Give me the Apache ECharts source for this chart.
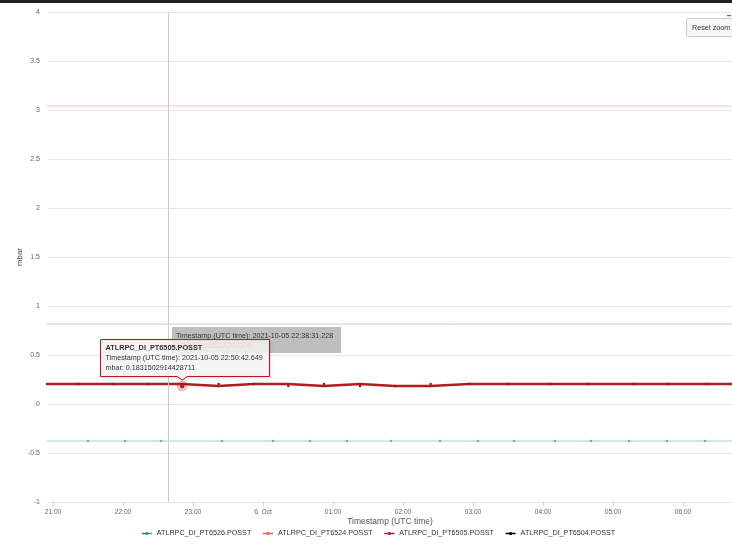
<!DOCTYPE html>
<html>
<head>
<meta charset="utf-8">
<script src="https://cdn.jsdelivr.net/npm/echarts@6/dist/echarts.min.js"></script>
<style>
  html, body { margin: 0; padding: 0; background: #fff; }
  #chart { width: 732px; height: 544px; }
</style>
</head>
<body>
<div id="chart"></div>
<script>
// Sensor names (legend order)
const seriesNames = [
  'ATLRPC_DI_PT6526.POSST',
  'ATLRPC_DI_PT6524.POSST',
  'ATLRPC_DI_PT6505.POSST',
  'ATLRPC_DI_PT6504.POSST'
];

// PT6526 readings (mbar)
const pt6526Times = [
  '2021-10-05T20:50:00Z', '2021-10-05T21:30:00Z', '2021-10-05T22:01:43Z', '2021-10-05T22:32:34Z',
  '2021-10-05T23:24:51Z', '2021-10-06T00:08:34Z', '2021-10-06T00:40:17Z', '2021-10-06T01:12:00Z',
  '2021-10-06T01:49:43Z', '2021-10-06T02:31:43Z', '2021-10-06T03:04:17Z', '2021-10-06T03:35:09Z',
  '2021-10-06T04:10:17Z', '2021-10-06T04:41:09Z', '2021-10-06T05:13:43Z', '2021-10-06T05:46:17Z',
  '2021-10-06T06:18:51Z', '2021-10-06T06:57:26Z'
];
const pt6526Values = [
  -0.378, -0.378, -0.378, -0.378, -0.378, -0.378, -0.378, -0.378, -0.378,
  -0.378, -0.378, -0.378, -0.378, -0.378, -0.378, -0.378, -0.378, -0.378
];

// PT6524 readings (mbar)
const pt6524Times = ['2021-10-05T20:50:00Z', '2021-10-06T01:50:00Z', '2021-10-06T06:57:00Z'];
const pt6524Values = [3.041, 3.041, 3.041];

// PT6505 readings (mbar)
const pt6505Times = [
  '2021-10-05T20:51:26Z', '2021-10-05T21:21:41Z', '2021-10-05T21:51:41Z', '2021-10-05T22:21:41Z',
  '2021-10-05T22:50:42.649Z', '2021-10-05T23:22:02Z', '2021-10-05T23:51:41Z', '2021-10-06T00:21:41Z',
  '2021-10-06T00:52:17Z', '2021-10-06T01:23:09Z', '2021-10-06T01:53:09Z', '2021-10-06T02:23:44Z',
  '2021-10-06T02:56:50Z', '2021-10-06T03:30:15Z', '2021-10-06T04:07:27Z', '2021-10-06T04:38:50Z',
  '2021-10-06T05:18:00Z', '2021-10-06T05:47:24Z', '2021-10-06T06:20:19Z', '2021-10-06T06:53:00Z'
];
const pt6505Values = [
  0.2035, 0.2035, 0.2035, 0.2035, 0.1831502914428711, 0.2035, 0.2035, 0.1832,
  0.2035, 0.1832, 0.1832, 0.2035, 0.2035, 0.2035, 0.2035, 0.2035,
  0.2035, 0.2035, 0.2035, 0.2035
];

// PT6504 readings (mbar)
const pt6504Times = ['2021-10-05T20:50:00Z', '2021-10-05T22:38:31.228Z', '2021-10-06T06:57:00Z'];
const pt6504Values = [0.8153655514250309, 0.8153655514250309, 0.8153655514250309];

// Axis settings
const xMin = '2021-10-05T20:55:43Z';
const xMax = '2021-10-06T06:42:00Z';
const yMin = -1, yMax = 4, yStep = 0.5;
const monthNames = ['Jan', 'Feb', 'Mar', 'Apr', 'May', 'Jun', 'Jul', 'Aug', 'Sep', 'Oct', 'Nov', 'Dec'];

// Hovered reading and crosshair reading
const hoverSeries = 2, hoverIndex = 4;
const crossSeries = 3, crossIndex = 1;

const seriesColors = ['#2a9a5a', '#f45b5b', '#b51a1e', '#000000'];
const seriesOpacity = [0.42, 0.35, 1, 0.2];

const allTimes = [pt6526Times, pt6524Times, pt6505Times, pt6504Times];
const allValues = [pt6526Values, pt6524Values, pt6505Values, pt6504Values];

const pairs = (ts, vs) => ts.map((t, i) => [Date.parse(t), vs[i]]);
const pad = n => (n < 10 ? '0' : '') + n;
const FONT = '"Liberation Sans", Arial, sans-serif';

const chart = echarts.init(document.getElementById('chart'), null, { renderer: 'canvas' });

const series = seriesNames.map((name, k) => {
  const s = {
    name: name,
    type: 'line',
    data: pairs(allTimes[k], allValues[k]),
    color: seriesColors[k],
    symbol: 'circle',
    showSymbol: k === 0 || k === 2,
    symbolSize: 2.5,
    lineStyle: { width: k === 2 ? 2.5 : 1, color: seriesColors[k], opacity: seriesOpacity[k], join: 'miter', cap: 'butt' },
    itemStyle: { color: k === 2 ? '#a01519' : seriesColors[k], opacity: Math.min(1, seriesOpacity[k] * 1.4) },
    emphasis: { disabled: true },
    animation: false,
    z: k === 2 ? 5 : 2
  };
  if (k === 2) s.step = 'end';
  return s;
});

chart.setOption({
  useUTC: true,
  animation: false,
  textStyle: { fontFamily: FONT },
  grid: { left: 48, right: 0, top: 12, bottom: 42 },
  xAxis: {
    type: 'time',
    min: Date.parse(xMin),
    max: Date.parse(xMax),
    splitNumber: 10,
    name: 'Timestamp (UTC time)',
    nameLocation: 'middle',
    nameGap: 15,
    nameMoveOverlap: false,
    nameTextStyle: { fontSize: 8.5, color: '#555', fontFamily: FONT },
    axisLine: { onZero: false, lineStyle: { color: '#dde2ea', width: 1 } },
    axisTick: { show: true, length: 4, lineStyle: { color: '#ccd6eb' } },
    splitLine: { show: false },
    axisLabel: {
      fontSize: 6.6,
      color: '#666',
      margin: 7,
      showMinLabel: false,
      showMaxLabel: false,
      hideOverlap: false,
      fontFamily: FONT,
      formatter: v => {
        const d = new Date(v);
        const h = d.getUTCHours(), m = d.getUTCMinutes();
        if (m !== 0) return '';
        if (h === 0) return d.getUTCDate() + '. ' + monthNames[d.getUTCMonth()];
        return pad(h) + ':00';
      }
    }
  },
  yAxis: {
    type: 'value',
    min: yMin,
    max: yMax,
    interval: yStep,
    name: 'mbar',
    nameLocation: 'middle',
    nameGap: 24,
    nameMoveOverlap: false,
    nameTextStyle: { fontSize: 7.8, color: '#444', fontFamily: FONT },
    axisLine: { show: false },
    axisTick: { show: false },
    splitLine: { lineStyle: { color: '#e6e6e6', width: 1 } },
    axisLabel: { fontSize: 7, color: '#666', margin: 8, fontFamily: FONT }
  },
  legend: {
    top: 530,
    left: 141,
    padding: 0,
    itemGap: 11,
    itemWidth: 10,
    itemHeight: 4,
    textStyle: { fontSize: 7.2, color: '#333', fontFamily: FONT },
    data: seriesNames.map((n, k) => ({
      name: n,
      itemStyle: { color: seriesColors[k], opacity: 1 },
      lineStyle: { color: seriesColors[k], opacity: 1, width: 1.5 }
    }))
  },
  tooltip: { show: false },
  series: series
});

// Overlay: crosshair, hover state, tooltips, top bar and reset button
function drawOverlay() {
  const hp = chart.convertToPixel({ gridIndex: 0 }, [Date.parse(allTimes[hoverSeries][hoverIndex]), allValues[hoverSeries][hoverIndex]]);
  const cp = chart.convertToPixel({ gridIndex: 0 }, [Date.parse(allTimes[crossSeries][crossIndex]), allValues[crossSeries][crossIndex]]);
  const top = chart.convertToPixel({ yAxisIndex: 0 }, yMax);
  const bottom = chart.convertToPixel({ yAxisIndex: 0 }, yMin);

  const hx = hp[0], hy = hp[1];
  const cx = cp[0], cy = cp[1];

  const tipW = 169, tipH = 37;
  const tipL = Math.round(hx - 82) + 0.5, tipT = Math.round(hy - 47) + 0.5;
  const arrowX = hx, arrowTip = hy - 6;

  const crossW = 169, crossH = 26;
  const crossL = Math.round(cx + 4), crossT = Math.round(cy + 2.5);

  const graphics = [
    // top dark bar
    { type: 'rect', shape: { x: 0, y: 0, width: 732, height: 3 }, style: { fill: '#1f1f1f' }, z: 100 },
    // crosshair
    { type: 'line', shape: { x1: Math.round(cx) + 0.5, y1: top, x2: Math.round(cx) + 0.5, y2: bottom }, style: { stroke: '#cccccc', lineWidth: 1 }, z: 10 },
    // hover halo and point
    { type: 'circle', shape: { cx: hx, cy: hy, r: 5.5 }, style: { fill: 'rgba(181,26,30,0.25)' }, z: 20 },
    { type: 'circle', shape: { cx: hx, cy: hy, r: 2.3 }, style: { fill: '#b51a1e' }, z: 21 },
    // crosshair label box
    { type: 'rect', shape: { x: crossL, y: crossT, width: crossW, height: crossH }, style: { fill: 'rgba(165,165,165,0.72)' }, z: 30 },
    { type: 'text', x: crossL + 4, y: crossT + 9, style: { text: 'Timestamp (UTC time): 2021-10-05 22:38:31.228', fill: '#333', font: '7.2px ' + FONT, verticalAlign: 'middle' }, z: 31 },
    { type: 'text', x: crossL + 9, y: crossT + 19, style: { text: '0.8153655514250309', fill: '#333', font: '7.2px ' + FONT, verticalAlign: 'middle' }, z: 31 },
    // tooltip callout
    {
      type: 'polygon',
      shape: { points: [
        [tipL, tipT], [tipL + tipW, tipT], [tipL + tipW, tipT + tipH],
        [arrowX + 5, tipT + tipH], [arrowX, arrowTip], [arrowX - 5, tipT + tipH], [tipL, tipT + tipH]
      ] },
      style: { fill: 'rgba(247,247,247,0.85)', stroke: '#b51a1e', lineWidth: 1, shadowColor: 'rgba(0,0,0,0.12)', shadowBlur: 3, shadowOffsetX: 1, shadowOffsetY: 1 },
      z: 40
    },
    { type: 'text', x: tipL + 5, y: tipT + 8.5, style: { text: 'ATLRPC_DI_PT6505.POSST', fill: '#333', font: 'bold 7.3px ' + FONT, verticalAlign: 'middle' }, z: 41 },
    { type: 'text', x: tipL + 5, y: tipT + 18.5, style: { text: 'Timestamp (UTC time): 2021-10-05 22:50:42.649', fill: '#333', font: '7.2px ' + FONT, verticalAlign: 'middle' }, z: 41 },
    { type: 'text', x: tipL + 5, y: tipT + 28.5, style: { text: 'mbar: ' + allValues[hoverSeries][hoverIndex], fill: '#333', font: '7.2px ' + FONT, verticalAlign: 'middle' }, z: 41 },
    // reset zoom button
    { type: 'rect', shape: { x: 686.5, y: 18.5, width: 60, height: 18, r: 2 }, style: { fill: '#f7f7f7', stroke: '#cccccc', lineWidth: 1 }, z: 50 },
    { type: 'text', x: 692, y: 28, style: { text: 'Reset zoom', fill: '#333', font: '7.2px ' + FONT, verticalAlign: 'middle' }, z: 51 },
    { type: 'rect', shape: { x: 727, y: 15, width: 4, height: 1.2 }, style: { fill: '#666' }, z: 51 }
  ];
  chart.setOption({ graphic: graphics });
}
drawOverlay();
</script>
</body>
</html>
